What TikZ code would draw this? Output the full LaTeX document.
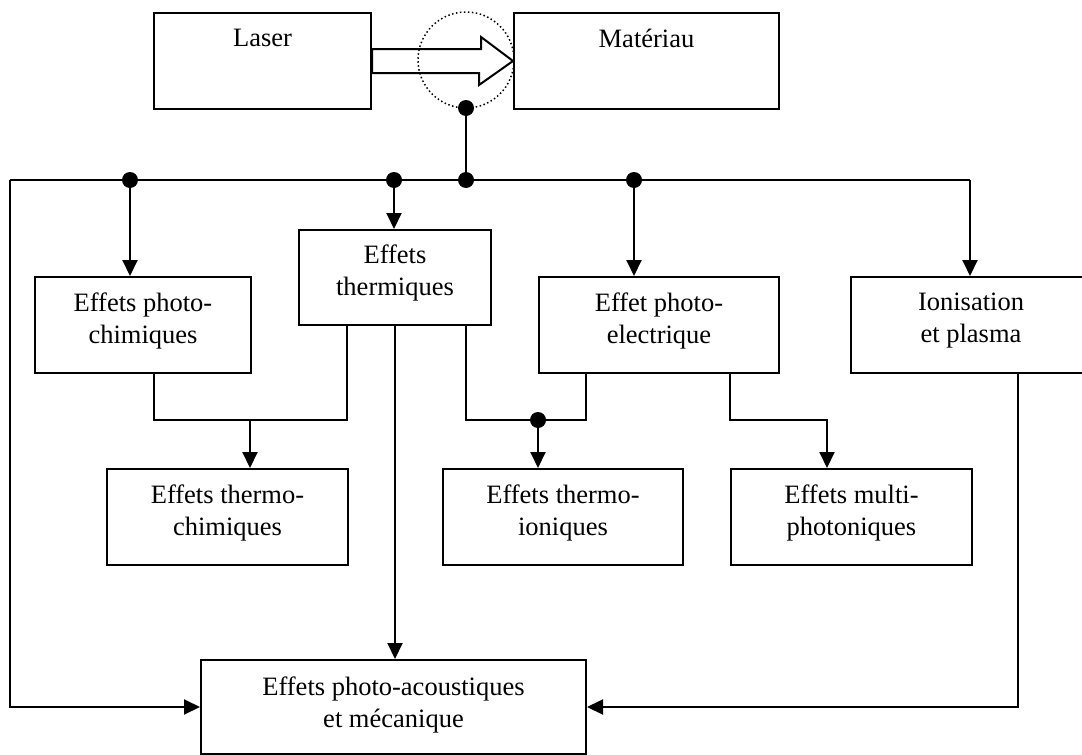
\documentclass[tikz,border=0pt]{standalone}
\usepackage{fontspec}
\setmainfont{Liberation Serif}
\usetikzlibrary{arrows.meta}
\begin{document}
\begin{tikzpicture}[x=1pt,y=-1pt,
  box/.style={draw, line width=2pt, inner sep=0pt, anchor=north west},
  lbl/.style={anchor=north, align=center, inner sep=0pt, font=\fontsize{26.5}{32}\selectfont},
  wire/.style={line width=2pt},
  arr/.style={wire, -{Triangle[length=16pt,width=15pt]}},
  dot/.style={circle, fill=black, inner sep=0pt, minimum size=16pt}]
\useasboundingbox (0,0) rectangle (1082,755);
\clip (0,0) rectangle (1082,755);

% boxes
\node[box, minimum width=217pt, minimum height=96pt] (laser) at (153,12) {};
\node[box, minimum width=265pt, minimum height=96pt] (mat) at (513,12) {};
\node[box, minimum width=192pt, minimum height=95pt] (therm) at (298,229) {};
\node[box, minimum width=216pt, minimum height=96pt] (photochim) at (34,276) {};
\node[box, minimum width=240pt, minimum height=96pt] (photoelec) at (538,276) {};
\node[box, minimum width=240pt, minimum height=96pt] (ionis) at (850,276) {};
\node[box, minimum width=241pt, minimum height=96pt] (thermochim) at (106,468) {};
\node[box, minimum width=240pt, minimum height=96pt] (thermoion) at (442,468) {};
\node[box, minimum width=241pt, minimum height=96pt] (multi) at (730,468) {};
\node[box, minimum width=385pt, minimum height=94pt] (acoust) at (200,659) {};

% labels
\node[lbl] (laser-t) at ([yshift=-17pt]laser.north) {Laser};
\node[lbl] (mat-t) at ([yshift=-17pt]mat.north) {Matériau};
\node[lbl] (therm-t) at ([yshift=-16pt]therm.north) {Effets\\thermiques};
\node[lbl] (photochim-t) at ([yshift=-17pt]photochim.north) {Effets photo-\\chimiques};
\node[lbl] (photoelec-t) at ([yshift=-17pt]photoelec.north) {Effet photo-\\electrique};
\node[lbl] (ionis-t) at ([yshift=-17pt]ionis.north) {Ionisation\\et plasma};
\node[lbl] (thermochim-t) at ([yshift=-17pt]thermochim.north) {Effets thermo-\\chimiques};
\node[lbl] (thermoion-t) at ([yshift=-17pt]thermoion.north) {Effets thermo-\\ioniques};
\node[lbl] (multi-t) at ([yshift=-17pt]multi.north) {Effets multi-\\photoniques};
\node[lbl] (acoust-t) at ([yshift=-18pt]acoust.north) {Effets photo-acoustiques\\et mécanique};

% block arrow laser -> material
\draw[wire, fill=white] ([yshift=12pt]laser.east) -- ++(109,0) -- ++(0,-12) -- (mat.west)
  -- ++(-34,24) -- ++(0,-12) -- ([yshift=-12pt]laser.east) -- cycle;
\draw[line width=1.5pt, dash pattern=on 1.5pt off 2.5pt] (466,60) circle[radius=48pt];

% dots and bus
\node[dot] (dm) at (466,108) {};
\coordinate (b0) at (10,180);
\coordinate (bR) at (970,180);
\draw[wire] (b0) -- (bR);
\node[dot] (d1) at (130,180) {};
\node[dot] (d2) at (394,180) {};
\node[dot] (d3) at (466,180) {};
\node[dot] (d4) at (634,180) {};
\draw[wire] (dm.center) -- (d3.center);

\draw[arr] (d1.center) -- (d1.center |- photochim.north);
\draw[arr] (d2.center) -- (d2.center |- therm.north);
\draw[arr] (d4.center) -- (d4.center |- photoelec.north);
\draw[arr] (bR) -- (bR |- ionis.north);
\draw[arr] (b0) |- (acoust.west);

% ionisation -> acoustique
\coordinate (iR) at (1018,0);
\draw[arr] (ionis.south -| iR) |- (acoust.east);

% photochim + thermiques -> thermochim
\coordinate (j1) at (154,420);
\coordinate (j1r) at (347,420);
\coordinate (j1m) at (250,420);
\draw[wire] (photochim.south -| j1) -- (j1) -- (j1r) -- (therm.south -| j1r);
\draw[arr] (j1m) -- (j1m |- thermochim.north);

% thermiques -> acoustique
\draw[arr] (therm.south) -- (therm.south |- acoust.north);

% thermiques + photoelec -> thermoion
\coordinate (j2) at (466,420);
\coordinate (j2r) at (586,420);
\draw[wire] (therm.south -| j2) -- (j2) -- (j2r) -- (photoelec.south -| j2r);
\node[dot] (d5) at (538,420) {};
\draw[arr] (d5.center) -- (d5.center |- thermoion.north);

% photoelec -> multi
\coordinate (j3) at (730,420);
\coordinate (j3r) at (827,420);
\draw[arr] (photoelec.south -| j3) -- (j3) -- (j3r) -- (j3r |- multi.north);
\end{tikzpicture}
\end{document}
